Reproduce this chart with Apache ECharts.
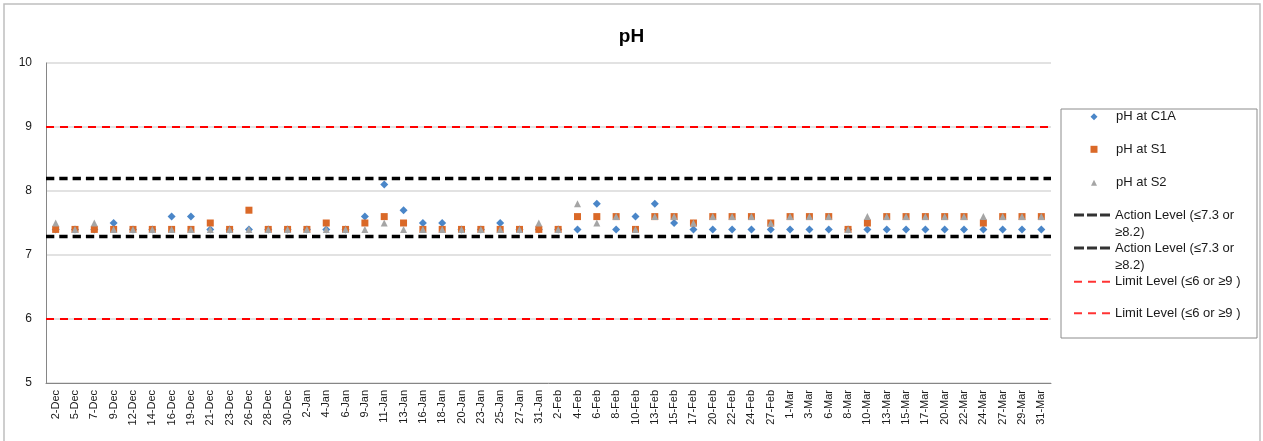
<!DOCTYPE html>
<html>
<head>
<meta charset="utf-8">
<script src="https://cdn.jsdelivr.net/npm/echarts@6/dist/echarts.min.js"></script>
<style>
html,body{margin:0;padding:0;background:#fff;}
#chart{width:1263px;height:441px;}
</style>
</head>
<body>
<div id="chart"></div>
<script>
const categories = ['2-Dec','5-Dec','7-Dec','9-Dec','12-Dec','14-Dec','16-Dec','19-Dec','21-Dec','23-Dec','26-Dec','28-Dec','30-Dec','2-Jan','4-Jan','6-Jan','9-Jan','11-Jan','13-Jan','16-Jan','18-Jan','20-Jan','23-Jan','25-Jan','27-Jan','31-Jan','2-Feb','4-Feb','6-Feb','8-Feb','10-Feb','13-Feb','15-Feb','17-Feb','20-Feb','22-Feb','24-Feb','27-Feb','1-Mar','3-Mar','6-Mar','8-Mar','10-Mar','13-Mar','15-Mar','17-Mar','20-Mar','22-Mar','24-Mar','27-Mar','29-Mar','31-Mar'];

const phC1A = [7.4,7.4,7.4,7.5,7.4,7.4,7.6,7.6,7.4,7.4,7.4,7.4,7.4,7.4,7.4,7.4,7.6,8.1,7.7,7.5,7.5,7.4,7.4,7.5,7.4,7.4,7.4,7.4,7.8,7.4,7.6,7.8,7.5,7.4,7.4,7.4,7.4,7.4,7.4,7.4,7.4,7.4,7.4,7.4,7.4,7.4,7.4,7.4,7.4,7.4,7.4,7.4];
const phS1  = [7.4,7.4,7.4,7.4,7.4,7.4,7.4,7.4,7.5,7.4,7.7,7.4,7.4,7.4,7.5,7.4,7.5,7.6,7.5,7.4,7.4,7.4,7.4,7.4,7.4,7.4,7.4,7.6,7.6,7.6,7.4,7.6,7.6,7.5,7.6,7.6,7.6,7.5,7.6,7.6,7.6,7.4,7.5,7.6,7.6,7.6,7.6,7.6,7.5,7.6,7.6,7.6];
const phS2  = [7.5,7.4,7.5,7.4,7.4,7.4,7.4,7.4,7.4,7.4,7.4,7.4,7.4,7.4,7.4,7.4,7.4,7.5,7.4,7.4,7.4,7.4,7.4,7.4,7.4,7.5,7.4,7.8,7.5,7.6,7.4,7.6,7.6,7.5,7.6,7.6,7.6,7.5,7.6,7.6,7.6,7.4,7.6,7.6,7.6,7.6,7.6,7.6,7.6,7.6,7.6,7.6];

const actionLevels = [7.3, 8.2];
const limitLevels = [6, 9];
const yTicks = [5, 6, 7, 8, 9, 10];

const legendLabels = {
  'pH at C1A': 'pH at C1A',
  'pH at S1': 'pH at S1',
  'pH at S2': 'pH at S2',
  'actionLow': 'Action Level (≤7.3 or\n≥8.2)',
  'actionHigh': 'Action Level (≤7.3 or\n≥8.2)',
  'limitLow': 'Limit Level (≤6 or ≥9 )',
  'limitHigh': 'Limit Level (≤6 or ≥9 )'
};

const FONT = 'Liberation Sans';
const blackDash = 'path://M0,0h10v3h-10z M13,0h10v3h-10z M26,0h10v3h-10z';
const redDash = 'path://M0,0h8v2h-8z M14,0h8v2h-8z M28,0h8v2h-8z';

const baseText = {fontFamily: FONT, fontSize: 13, color: '#1a1a1a', lineHeight: 17};

// marker legend entries: small icon centred at x=1094, text at x=1116
function markerLegend(name, centerY, icon, color, size) {
  return {
    left: 1094 - size / 2,
    top: centerY - 8.5,
    orient: 'vertical',
    padding: 0,
    itemWidth: size,
    itemHeight: size,
    selectedMode: false,
    formatter: n => '{g|}' + legendLabels[n],
    textStyle: Object.assign({}, baseText, {rich: {g: {width: 1116 - (1094 + size / 2) - 5, height: 17}}}),
    data: [{name: name, icon: icon, itemStyle: {color: color}}]
  };
}

// line legend entries: dashed icon 1074..1110, text at x=1115
function lineLegend(name, firstLineY, icon, color, h) {
  const twoLine = legendLabels[name].indexOf('\n') >= 0;
  return {
    left: 1074,
    top: twoLine ? firstLineY - 25.5 : firstLineY - 8.5,
    orient: 'vertical',
    padding: 0,
    itemWidth: 36,
    itemHeight: h,
    selectedMode: false,
    formatter: n => (twoLine ? '\n' : '') + legendLabels[n],
    textStyle: baseText,
    data: [{name: name, icon: icon, itemStyle: {color: color}}]
  };
}

const chart = echarts.init(document.getElementById('chart'), null, {renderer: 'canvas'});

const option = {
  animation: false,
  backgroundColor: '#fff',
  title: {
    text: 'pH',
    left: 'center',
    top: 22,
    textStyle: {fontFamily: FONT, fontSize: 19, fontWeight: 'bold', color: '#000'}
  },
  graphic: [
    {type: 'rect', silent: true, shape: {x: 4, y: 4, width: 1256, height: 460},
     style: {fill: 'none', stroke: '#BEBEBE', lineWidth: 1.5}},
    {type: 'rect', silent: true, shape: {x: 1061, y: 109, width: 196, height: 229},
     style: {fill: 'none', stroke: '#8C8C8C', lineWidth: 1}}
  ],
  legend: [
    markerLegend('pH at C1A', 116.7, 'diamond', '#4A86C8', 7),
    markerLegend('pH at S1', 149.3, 'rect', '#DA6928', 7),
    markerLegend('pH at S2', 182.7, 'triangle', '#A5A5A5', 6),
    lineLegend('actionLow', 215, blackDash, '#000', 3),
    lineLegend('actionHigh', 248, blackDash, '#000', 3),
    lineLegend('limitLow', 281.7, redDash, '#FF0000', 2),
    lineLegend('limitHigh', 313.3, redDash, '#FF0000', 2)
  ],
  grid: {left: 46, right: 212, top: 63, bottom: 58, containLabel: false},
  xAxis: {
    type: 'category',
    data: categories,
    boundaryGap: true,
    axisLine: {show: true, lineStyle: {color: '#868686', width: 1}},
    axisTick: {show: false},
    splitLine: {show: false},
    axisLabel: {
      interval: 0, rotate: 90, margin: 7,
      fontFamily: FONT, fontSize: 11, color: '#1a1a1a'
    }
  },
  yAxis: {
    type: 'value',
    min: yTicks[0],
    max: yTicks[yTicks.length - 1],
    interval: 1,
    axisLine: {show: true, lineStyle: {color: '#868686', width: 1}},
    axisTick: {show: false},
    splitLine: {show: true, lineStyle: {color: '#D9D9D9', width: 1.5}},
    axisLabel: {margin: 14, fontFamily: FONT, fontSize: 12, color: '#1a1a1a'}
  },
  series: [
    {
      name: 'limitLow', type: 'scatter', data: [], z: 1,
      markLine: {silent: true, symbol: 'none', label: {show: false},
        lineStyle: {color: '#FF0000', width: 2, type: [8, 6]},
        data: [{yAxis: limitLevels[0]}]}
    },
    {
      name: 'limitHigh', type: 'scatter', data: [], z: 1,
      markLine: {silent: true, symbol: 'none', label: {show: false},
        lineStyle: {color: '#FF0000', width: 2, type: [8, 6]},
        data: [{yAxis: limitLevels[1]}]}
    },
    {
      name: 'actionLow', type: 'scatter', data: [], z: 1,
      markLine: {silent: true, symbol: 'none', label: {show: false},
        lineStyle: {color: '#000', width: 3.3, type: [8.3, 5]},
        data: [{yAxis: actionLevels[0]}]}
    },
    {
      name: 'actionHigh', type: 'scatter', data: [], z: 1,
      markLine: {silent: true, symbol: 'none', label: {show: false},
        lineStyle: {color: '#000', width: 3.3, type: [8.3, 5]},
        data: [{yAxis: actionLevels[1]}]}
    },
    {
      name: 'pH at C1A', type: 'scatter', data: phC1A, z: 3,
      symbol: 'diamond', symbolSize: 8,
      itemStyle: {color: '#4A86C8', opacity: 1}
    },
    {
      name: 'pH at S1', type: 'scatter', data: phS1, z: 4,
      symbol: 'rect', symbolSize: 7,
      itemStyle: {color: '#DA6928', opacity: 1}
    },
    {
      name: 'pH at S2', type: 'scatter', data: phS2, z: 5,
      symbol: 'triangle', symbolSize: 7,
      itemStyle: {color: '#A5A5A5', opacity: 1}
    }
  ]
};

chart.setOption(option);
</script>
</body>
</html>
